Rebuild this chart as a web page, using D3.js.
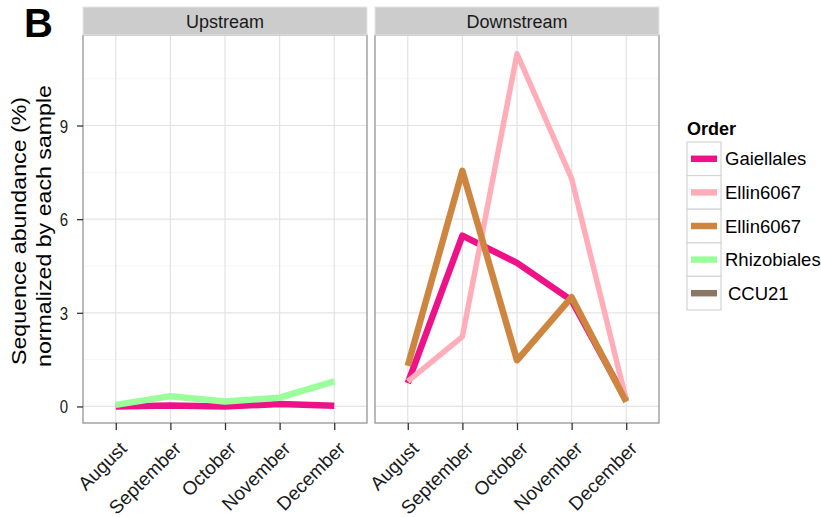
<!DOCTYPE html>
<html>
<head>
<meta charset="utf-8">
<script src="https://cdn.jsdelivr.net/npm/d3@7"></script>
<style>
  body { margin: 0; background: #fff; }
  svg text { font-family: Arial, "Liberation Sans", sans-serif; }
</style>
</head>
<body>
<svg id="chart" width="821" height="517"></svg>
<script>
// Months sampled and the two river sites
const months = ["August", "September", "October", "November", "December"];
const sites = ["Upstream", "Downstream"];
const yTicks = [0, 3, 6, 9];

// Order names and their line colours (legend order)
const orders = ["Gaiellales", "Ellin6067", "Ellin6067 ", "Rhizobiales", "CCU21"];
const orderLabels = ["Gaiellales", "Ellin6067", "Ellin6067", "Rhizobiales", "CCU21"];
const orderColors = ["#EE1289", "#FFAEB9", "#CD853F", "#9AFF9A", "#8B7765"];
const orderWidths = [6.5, 5.5, 6.5, 6.5, 6.5];

// Sequence abundance (%) per month, per site; null = not present
const upGaiellales   = [0.0, 0.03, 0.0, 0.08, 0.02];
const upRhizobiales  = [0.05, 0.33, 0.16, 0.28, 0.80];
const downGaiellales = [0.75, 5.47, 4.60, 3.40, 0.20];
const downEllinPink  = [0.80, 2.24, 11.30, 7.30, 0.20];
const downEllinBrown = [1.30, 7.55, 1.48, 3.50, 0.15];

const seriesBySite = {
  Upstream:   [upGaiellales, null, null, upRhizobiales, null],
  Downstream: [downGaiellales, downEllinPink, downEllinBrown, null, null]
};

const svg = d3.select("#chart");

// Panel geometry
const panelTop = 35, panelBottom = 423;
const panels = [{ x0: 83, x1: 367 }, { x0: 375, x1: 659 }];
const stripTop = 7;

const y = d3.scaleLinear().domain([-0.53, 11.9]).range([panelBottom, panelTop]);

// Big panel letter
svg.append("text").attr("x", 24).attr("y", 37)
  .attr("font-size", 40).attr("font-weight", "bold").attr("fill", "#000")
  .text("B");

sites.forEach((site, i) => {
  const p = panels[i];
  const x = d3.scalePoint().domain(months).range([p.x0, p.x1]).padding(0.6);
  const g = svg.append("g");

  // panel background
  g.append("rect").attr("x", p.x0).attr("y", panelTop)
    .attr("width", p.x1 - p.x0).attr("height", panelBottom - panelTop)
    .attr("fill", "#fff");

  // minor horizontal gridlines
  const minor = [1.5, 4.5, 7.5, 10.5];
  g.selectAll(".minor").data(minor).join("line")
    .attr("x1", p.x0).attr("x2", p.x1)
    .attr("y1", d => y(d)).attr("y2", d => y(d))
    .attr("stroke", "#f5f5f5").attr("stroke-width", 1);

  // major gridlines
  g.selectAll(".hmaj").data(yTicks).join("line")
    .attr("x1", p.x0).attr("x2", p.x1)
    .attr("y1", d => y(d)).attr("y2", d => y(d))
    .attr("stroke", "#e3e3e3").attr("stroke-width", 1.2);
  g.selectAll(".vmaj").data(months).join("line")
    .attr("x1", d => x(d)).attr("x2", d => x(d))
    .attr("y1", panelTop).attr("y2", panelBottom)
    .attr("stroke", "#e3e3e3").attr("stroke-width", 1.2);

  // lines
  const line = d3.line()
    .defined(d => d.v != null)
    .x(d => x(d.m)).y(d => y(d.v));
  seriesBySite[site].forEach((vals, k) => {
    if (!vals) return;
    const pts = months.map((m, j) => ({ m, v: vals[j] }));
    g.append("path").datum(pts)
      .attr("d", line)
      .attr("fill", "none")
      .attr("stroke", orderColors[k])
      .attr("stroke-width", orderWidths[k])
      .attr("stroke-linejoin", "round");
  });

  // panel border
  g.append("rect").attr("x", p.x0).attr("y", panelTop)
    .attr("width", p.x1 - p.x0).attr("height", panelBottom - panelTop)
    .attr("fill", "none").attr("stroke", "#8c8c8c").attr("stroke-width", 1.2);

  // strip
  g.append("rect").attr("x", p.x0).attr("y", stripTop)
    .attr("width", p.x1 - p.x0).attr("height", panelTop - stripTop)
    .attr("fill", "#cccccc").attr("stroke", "#e6e6e6").attr("stroke-width", 1);
  g.append("text").attr("x", (p.x0 + p.x1) / 2).attr("y", 28)
    .attr("text-anchor", "middle").attr("font-size", 18).attr("fill", "#1a1a1a")
    .text(site);

  // x axis
  const xAxis = d3.axisBottom(x).tickSize(7).tickPadding(0);
  const xa = g.append("g").attr("transform", `translate(0,${panelBottom})`).call(xAxis);
  xa.select(".domain").remove();
  xa.selectAll(".tick line").attr("stroke", "#333").attr("stroke-width", 1.3);
  xa.selectAll(".tick text")
    .attr("font-size", 19).attr("fill", "#1a1a1a")
    .attr("text-anchor", "end")
    .attr("x", 0).attr("y", 0).attr("dy", "0.72em")
    .attr("transform", "translate(2,17) rotate(-45)");

  // y axis on first panel
  if (i === 0) {
    const yAxis = d3.axisLeft(y).tickValues(yTicks).tickSize(6).tickPadding(0);
    const ya = g.append("g").attr("transform", `translate(${p.x0},0)`).call(yAxis);
    ya.select(".domain").remove();
    ya.selectAll(".tick line").attr("stroke", "#333").attr("stroke-width", 1.3);
    ya.selectAll(".tick text")
      .attr("font-size", 15).attr("fill", "#1a1a1a")
      .attr("x", 0).attr("dy", "0.36em")
      .attr("transform", "translate(-15,0) scale(1,1.2)");
  }
});

// y axis title (two lines, stretched along the reading direction)
const titleLines = [
  { text: "Sequence abundance (%)", base: 26, len: 268, mid: 231 },
  { text: "normalized by each sample", base: 51, len: 282, mid: 226 }
];
titleLines.forEach(t => {
  svg.append("text")
    .attr("transform", `translate(${t.base},${t.mid}) rotate(-90)`)
    .attr("x", 0).attr("y", 0)
    .attr("text-anchor", "middle").attr("font-size", 20).attr("fill", "#000")
    .attr("textLength", t.len).attr("lengthAdjust", "spacingAndGlyphs")
    .text(t.text);
});

// legend
const lg = svg.append("g");
lg.append("text").attr("x", 687).attr("y", 135)
  .attr("font-size", 18).attr("font-weight", "bold").attr("fill", "#000")
  .text("Order");
const keyTop = 142, keyH = 33.6, keyX = 687, keyW = 34;
orders.forEach((o, k) => {
  const ky = keyTop + k * keyH;
  lg.append("rect").attr("x", keyX).attr("y", ky).attr("width", keyW).attr("height", keyH)
    .attr("fill", "#fff").attr("stroke", "#d4d4d4").attr("stroke-width", 1.2);
  lg.append("line").attr("x1", keyX + 4).attr("x2", keyX + keyW - 4)
    .attr("y1", ky + keyH / 2).attr("y2", ky + keyH / 2)
    .attr("stroke", orderColors[k]).attr("stroke-width", 6.5);
  lg.append("text").attr("x", keyX + keyW + 4 + (k === 4 ? 3 : 0)).attr("y", ky + keyH / 2)
    .attr("dy", "0.36em").attr("font-size", 18.5).attr("fill", "#000")
    .text(orderLabels[k]);
});
</script>
</body>
</html>
